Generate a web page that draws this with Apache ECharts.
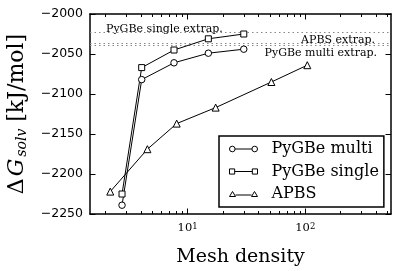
<!DOCTYPE html>
<html>
<head>
<meta charset="utf-8">
<script src="https://cdn.jsdelivr.net/npm/echarts@6/dist/echarts.min.js"></script>
<style>html,body{margin:0;padding:0;background:#fff;}#c{width:407px;height:271px;}</style>
</head>
<body>
<div id="c"></div>
<script>
// ---- data ----
var meshPyGBe = [2.77, 4.07, 7.66, 15.0, 30.0];
var multiValues = [-2239, -2082, -2061, -2049, -2044];
var singleValues = [-2225, -2067, -2045, -2031, -2025];
var meshAPBS = [2.2, 4.55, 8.07, 17.3, 51.5, 104];
var apbsValues = [-2222, -2169, -2137, -2117, -2085, -2064];
var extrapNames = ['PyGBe single extrap.', 'APBS extrap.', 'PyGBe multi extrap.'];
var extrapValues = [-2023, -2036, -2039];
var seriesNames = ['PyGBe multi', 'PyGBe single', 'APBS'];
var xMajorTicks = [10, 100];
var xMinorTicks = [2,3,4,5,6,7,8,9,20,30,40,50,60,70,80,90,200,300,400,500];
var yTicks = [-2250, -2200, -2150, -2100, -2050, -2000];

function pairs(xs, ys) { return xs.map(function (x, i) { return [x, ys[i]]; }); }

var X_MIN = 1.48, X_MAX = 535;
var serif = 'DejaVu Serif';

function xAxisCfg(pos, major) {
  return {
    type: 'log', logBase: 10, min: X_MIN, max: X_MAX, position: pos, gridIndex: 0,
    axisLine: { show: major, onZero: false, lineStyle: { color: '#000', width: 1.5 } },
    axisTick: { show: true, inside: true, length: major ? 5.5 : 3, customValues: major ? xMajorTicks : xMinorTicks,
      lineStyle: { color: '#000', width: 1 } },
    axisLabel: { show: major && pos === 'bottom', customValues: xMajorTicks, margin: 8,
      fontFamily: serif, fontSize: 11.5, color: '#000',
      formatter: function (v) { return '10{sup|' + Math.round(Math.log10(v)) + '}'; },
      rich: { sup: { fontSize: 8.5, fontFamily: serif, verticalAlign: 'top', lineHeight: 12, padding: [0, 0, 5, 0] } } },
    splitLine: { show: false }, minorTick: { show: false }, minorSplitLine: { show: false },
    name: (major && pos === 'bottom') ? 'Mesh density' : '',
    nameLocation: 'middle', nameGap: 34,
    nameTextStyle: { fontFamily: serif, fontSize: 19, color: '#000' }
  };
}

var chart = echarts.init(document.getElementById('c'), null, { renderer: 'canvas' });
var option = {
  animation: false,
  backgroundColor: '#fff',
  grid: { left: 90, right: 16, top: 14, bottom: 57, containLabel: false, outerBoundsMode: 'none' },
  xAxis: [xAxisCfg('bottom', true), xAxisCfg('bottom', false), xAxisCfg('top', true), xAxisCfg('top', false)],
  yAxis: [
    { type: 'value', min: yTicks[0], max: yTicks[yTicks.length - 1], interval: 50, position: 'left',
      axisLine: { show: true, onZero: false, lineStyle: { color: '#000', width: 1.5 } },
      axisTick: { show: true, inside: true, length: 5.5, lineStyle: { color: '#000' } },
      axisLabel: { margin: 7, fontFamily: 'DejaVu Sans', fontSize: 12.5, color: '#000',
        formatter: function (v) { return String(v).replace('-', '\u2212'); } },
      splitLine: { show: false },
      name: '{d|\u0394}{g|G}{s|solv}{d| [kJ/mol]}', nameLocation: 'middle', nameGap: 56,
      nameTextStyle: { fontFamily: serif, fontSize: 22, color: '#000',
        rich: {
          d: { fontFamily: serif, fontSize: 22, lineHeight: 26 },
          g: { fontFamily: serif, fontSize: 22, fontStyle: 'italic', lineHeight: 26, padding: [0, 2, 0, 2] },
          s: { fontFamily: serif, fontSize: 14, fontStyle: 'italic', lineHeight: 14, padding: [12, 0, 0, 0] }
        } } },
    { type: 'value', min: yTicks[0], max: yTicks[yTicks.length - 1], interval: 50, position: 'right',
      axisLine: { show: true, onZero: false, lineStyle: { color: '#000', width: 1.5 } },
      axisTick: { show: true, inside: true, length: 5.5, lineStyle: { color: '#000' } },
      axisLabel: { show: false }, splitLine: { show: false } }
  ],
  legend: {
    orient: 'vertical', left: 219, top: 136,
    padding: [5, 5, 5, 10], itemGap: 6.5, itemWidth: 28, itemHeight: 6,
    borderColor: '#000', borderWidth: 1.5, borderRadius: 0, backgroundColor: '#fff',
    itemStyle: { color: '#fff', borderColor: '#000', borderWidth: 1 },
    textStyle: { fontFamily: serif, fontSize: 16, color: '#000', padding: [0, 0, 0, 9] },
    data: [
      { name: seriesNames[0], icon: 'path://M0.25,3 A2.75,2.75 0 1 1 5.75,3 A2.75,2.75 0 1 1 0.25,3 Z M5.75,3 L22.25,3 M22.25,3 A2.75,2.75 0 1 1 27.75,3 A2.75,2.75 0 1 1 22.25,3 Z' },
      { name: seriesNames[1], icon: 'path://M0.5,0.5 L5.5,0.5 L5.5,5.5 L0.5,5.5 Z M5.5,3 L22.5,3 M22.5,0.5 L27.5,0.5 L27.5,5.5 L22.5,5.5 Z' },
      { name: seriesNames[2], icon: 'path://M0,5.5 L3,0.5 L6,5.5 Z M6,4 L22,4 M22,5.5 L25,0.5 L28,5.5 Z' }
    ]
  },
  series: [
    { name: seriesNames[0], type: 'line', xAxisIndex: 0, yAxisIndex: 0, data: pairs(meshPyGBe, multiValues),
      symbol: 'circle', symbolSize: 6.5, lineStyle: { color: '#000', width: 1 },
      itemStyle: { color: '#fff', borderColor: '#000', borderWidth: 1 }, z: 5 },
    { name: seriesNames[1], type: 'line', xAxisIndex: 0, yAxisIndex: 0, data: pairs(meshPyGBe, singleValues),
      symbol: 'rect', symbolSize: 6, lineStyle: { color: '#000', width: 1 },
      itemStyle: { color: '#fff', borderColor: '#000', borderWidth: 1 }, z: 5 },
    { name: seriesNames[2], type: 'line', xAxisIndex: 0, yAxisIndex: 0, data: pairs(meshAPBS, apbsValues),
      symbol: 'triangle', symbolSize: 7, lineStyle: { color: '#000', width: 1 },
      itemStyle: { color: '#fff', borderColor: '#000', borderWidth: 1 }, z: 5,
      markLine: {
        silent: true, symbol: 'none', animation: false,
        lineStyle: { color: '#888', type: [1.5, 3], width: 1 },
        data: [
          { yAxis: extrapValues[0], label: { formatter: extrapNames[0], position: 'insideStartTop', distance: [16, -2] } },
          { yAxis: extrapValues[1], label: { formatter: extrapNames[1], position: 'insideEndTop', distance: [16, -3] } },
          { yAxis: extrapValues[2], label: { formatter: extrapNames[2], position: 'insideEndBottom', distance: [14, 2] } }
        ],
        label: { fontFamily: serif, fontSize: 11, color: '#000' }
      } }
  ]
};
chart.setOption(option);
</script>
</body>
</html>
